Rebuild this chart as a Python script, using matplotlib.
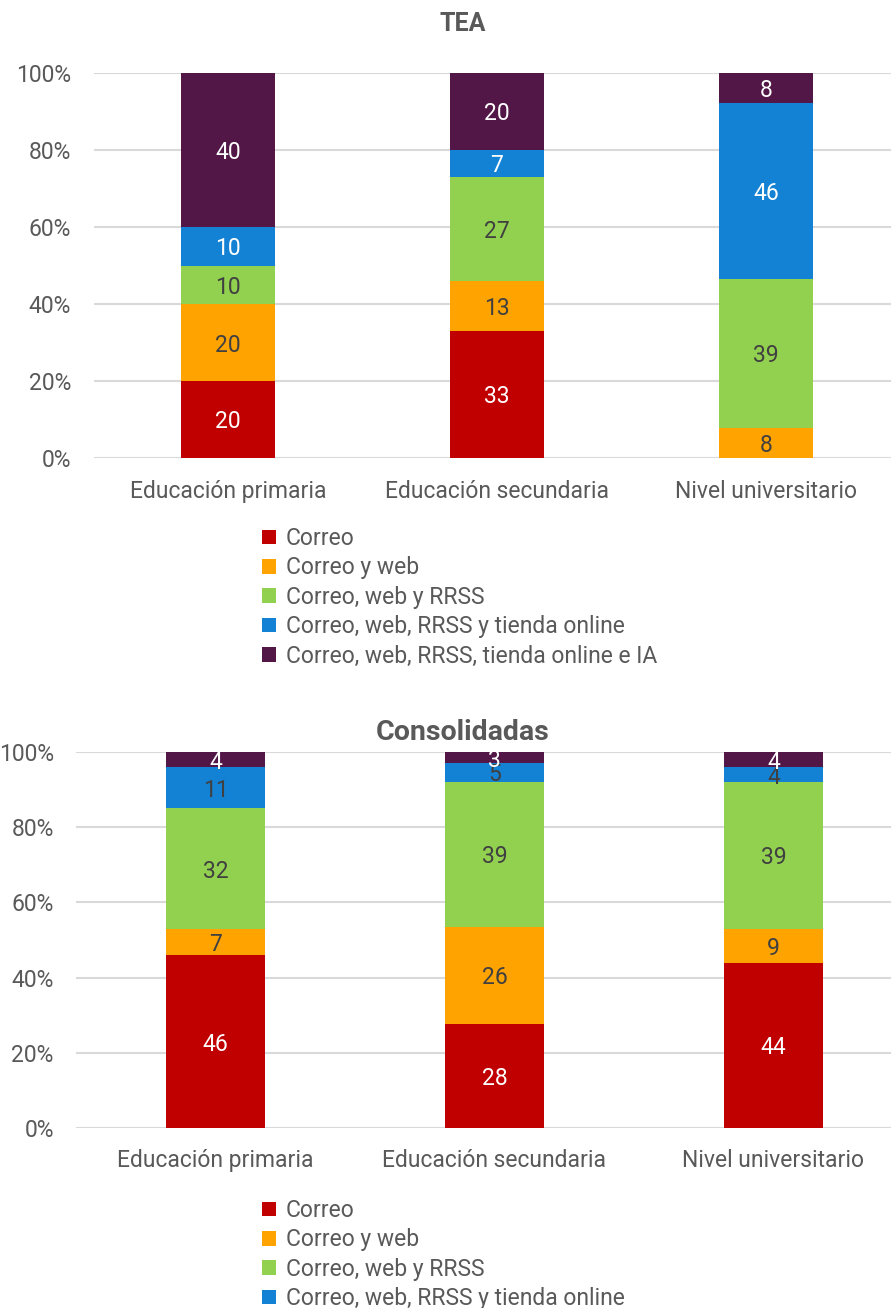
import matplotlib
matplotlib.use("Agg")
import matplotlib.pyplot as plt
import numpy as np

plt.rcParams['font.family'] = ['Roboto', 'DejaVu Sans']

categories = ["Educación primaria", "Educación secundaria", "Nivel universitario"]
series = ["Correo", "Correo y web", "Correo, web y RRSS",
          "Correo, web, RRSS y tienda online", "Correo, web, RRSS, tienda online e IA"]
colors = ["#C00000", "#FFA300", "#92D050", "#1382D4", "#521747"]

# TEA: one list per series, across the three education levels
tea_correo = [20, 33, 0]
tea_correo_web = [20, 13, 8]
tea_correo_web_rrss = [10, 27, 39]
tea_tienda = [10, 7, 46]
tea_ia = [40, 20, 8]

# Consolidadas
con_correo = [46, 28, 44]
con_correo_web = [7, 26, 9]
con_correo_web_rrss = [32, 39, 39]
con_tienda = [11, 5, 4]
con_ia = [4, 3, 4]

yticks = [0, 20, 40, 60, 80, 100]
ytick_labels = ["0%", "20%", "40%", "60%", "80%", "100%"]

W, H = 891, 1308
fig = plt.figure(figsize=(W / 100, H / 100), dpi=100)

GRID = "#D9D9D9"
TXT = "#595959"
DARK = "#404040"
FS = 16.5


def px_axes(left, right, top, bottom):
    return fig.add_axes([left / W, 1 - bottom / H, (right - left) / W, (bottom - top) / H])


def stacked(ax, data, label_colors, width, xpad):
    data = np.array(data, dtype=float)
    totals = data.sum(axis=0)
    share = data / totals * 100
    x = np.arange(len(categories))
    bottom = np.zeros(len(categories))
    handles = []
    for i, name in enumerate(series):
        h = ax.bar(x, share[i], width, bottom=bottom, color=colors[i], label=name,
                   edgecolor="none", zorder=3)
        handles.append(h)
        for j in range(len(categories)):
            if data[i, j] > 0:
                ax.text(x[j], bottom[j] + share[i, j] / 2, f"{int(data[i, j])}",
                        ha="center", va="center_baseline", fontsize=FS,
                        color=label_colors[i], zorder=4)
        bottom += share[i]
    ax.set_ylim(0, 100)
    ax.set_xlim(-0.5, len(categories) - 0.5)
    ax.set_yticks(yticks)
    ax.set_yticklabels(ytick_labels)
    ax.set_xticks(x)
    ax.set_xticklabels(categories)
    ax.yaxis.grid(True, color=GRID, linewidth=1.5, zorder=0)
    ax.set_axisbelow(True)
    for s in ax.spines.values():
        s.set_visible(False)
    ax.tick_params(axis="both", length=0, labelsize=FS, colors=TXT)
    ax.tick_params(axis="x", pad=xpad)
    ax.tick_params(axis="y", pad=16)
    return handles


def legend(handles, top_px):
    fig.legend(handles=handles, labels=series, loc="upper left",
               bbox_to_anchor=(262 / W, 1 - top_px / H), frameon=False,
               fontsize=FS, labelcolor=TXT, handlelength=0.6, handleheight=0.6,
               handletextpad=0.45, labelspacing=0.28, borderaxespad=0, borderpad=0)


# Top chart: TEA
ax1 = px_axes(93.5, 900.5, 73, 458)
h1 = stacked(ax1, [tea_correo, tea_correo_web, tea_correo_web_rrss, tea_tienda, tea_ia],
             ["white", DARK, DARK, "white", "white"], 0.353, 16)
fig.text(463 / W, 1 - 24 / H, "TEA", ha="center", va="center",
         fontsize=18, fontweight="bold", color=TXT)
legend(h1, 527)

# Bottom chart: Consolidadas
ax2 = px_axes(76, 913, 752, 1128)
h2 = stacked(ax2, [con_correo, con_correo_web, con_correo_web_rrss, con_tienda, con_ia],
             ["white", DARK, DARK, DARK, "white"], 0.355, 15)
fig.text(463 / W, 1 - 732 / H, "Consolidadas", ha="center", va="center",
         fontsize=20.5, fontweight="bold", color=TXT)
legend(h2, 1199)

fig.savefig("out.png", dpi=100)
